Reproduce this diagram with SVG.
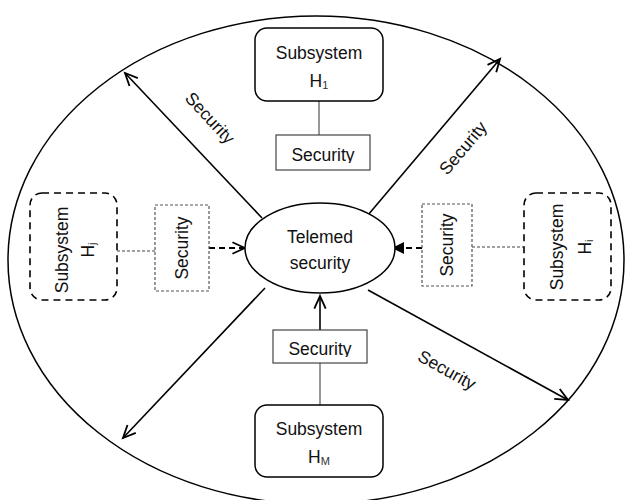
<svg xmlns="http://www.w3.org/2000/svg" width="625" height="500" viewBox="0 0 625 500">
  <style>
    text { font-family: "Liberation Sans", Arial, sans-serif; font-size: 17.5px; fill: #111; text-anchor: middle; }
    .sub { font-size: 11px; fill: #333; }
    .outline { fill: none; stroke: #000; stroke-width: 1.5; }
    .box { fill: #fff; stroke: #000; stroke-width: 1.5; }
    .dashbox { fill: #fff; stroke: #000; stroke-width: 1.6; stroke-dasharray: 7 5; }
    .secbox { fill: #fff; stroke: #444; stroke-width: 1.2; }
    .secdash { fill: #fff; stroke: #555; stroke-width: 1.2; stroke-dasharray: 3 2; }
    .link { fill: none; stroke: #333; stroke-width: 1; }
    .dotlink { fill: none; stroke: #444; stroke-width: 1.2; stroke-dasharray: 3 2; }
    .arrow { fill: none; stroke: #000; stroke-width: 1.6; }
    .dasharrow { fill: none; stroke: #000; stroke-width: 1.8; stroke-dasharray: 6 4; }
  </style>
  <defs>
    <marker id="open" markerUnits="userSpaceOnUse" markerWidth="16" markerHeight="16" refX="12" refY="6" orient="auto" viewBox="0 0 14 12">
      <path d="M1,1 L12,6 L1,11" fill="none" stroke="#000" stroke-width="1.6"/>
    </marker>
    <marker id="solid" markerUnits="userSpaceOnUse" markerWidth="12" markerHeight="12" refX="10" refY="5" orient="auto" viewBox="0 0 10 10">
      <path d="M0,0 L10,5 L0,10 Z" fill="#000"/>
    </marker>
    <clipPath id="clipTop"><rect x="276" y="135" width="94" height="28"/></clipPath>
    <clipPath id="clipBottom"><rect x="273" y="330" width="94" height="27"/></clipPath>
  </defs>

  <!-- enclosing system boundary -->
  <ellipse class="outline" cx="316" cy="260" rx="308" ry="244"/>

  <!-- connectors -->
  <g id="connectors">
    <!-- diagonal security channels -->
    <line class="arrow" x1="262" y1="218" x2="125" y2="73" marker-end="url(#open)"/>
    <line class="arrow" x1="368" y1="215" x2="500" y2="59" marker-end="url(#open)"/>
    <line class="arrow" x1="265" y1="288" x2="123" y2="438" marker-end="url(#open)"/>
    <line class="arrow" x1="368" y1="290" x2="568" y2="400" marker-end="url(#open)"/>
    <!-- top -->
    <line class="link" x1="319" y1="101" x2="319" y2="135"/>
    <!-- bottom -->
    <line class="link" x1="320" y1="363" x2="320" y2="405"/>
    <line class="arrow" x1="320" y1="330" x2="320" y2="296" marker-end="url(#open)"/>
    <!-- left -->
    <line class="dotlink" x1="117" y1="251" x2="155" y2="251"/>
    <line class="dasharrow" x1="209" y1="248" x2="245" y2="248" marker-end="url(#open)"/>
    <!-- right -->
    <line class="dotlink" x1="472" y1="247" x2="524" y2="247"/>
    <line class="dasharrow" x1="422" y1="248" x2="392" y2="248" marker-end="url(#solid)"/>

    <text transform="translate(210,118) rotate(47)" y="6">Security</text>
    <text transform="translate(463,148) rotate(-50)" y="6">Security</text>
    <text transform="translate(447,370) rotate(29)" y="6">Security</text>
  </g>

  <!-- central node -->
  <g id="telemed">
    <ellipse class="box" cx="320" cy="248" rx="75" ry="45"/>
    <text x="320" y="243">Telemed</text>
    <text x="320" y="269">security</text>
  </g>

  <!-- subsystem H1 -->
  <g id="subsystem-h1">
    <rect class="box" x="255" y="28" width="128" height="73" rx="12"/>
    <text x="319" y="59">Subsystem</text>
    <text x="319" y="87">H<tspan class="sub" dy="2">1</tspan></text>
  </g>
  <g id="security-h1">
    <rect class="secbox" x="276" y="135" width="94" height="35"/>
    <text x="323" y="161" clip-path="url(#clipTop)">Security</text>
  </g>

  <!-- subsystem HM -->
  <g id="subsystem-hm">
    <rect class="box" x="255" y="405" width="128" height="72" rx="12"/>
    <text x="319" y="435">Subsystem</text>
    <text x="319" y="463">H<tspan class="sub" dy="2">M</tspan></text>
  </g>
  <g id="security-hm">
    <rect class="secbox" x="273" y="330" width="94" height="33"/>
    <text x="320" y="355" clip-path="url(#clipBottom)">Security</text>
  </g>

  <!-- subsystem Hj (left) -->
  <g id="subsystem-hj">
    <rect class="dashbox" x="30" y="193" width="87" height="107" rx="12"/>
    <text transform="translate(62,250) rotate(-90)" y="6">Subsystem</text>
    <text transform="translate(88,250) rotate(-90)" y="6">H<tspan class="sub" dy="2">j</tspan></text>
  </g>
  <g id="security-hj">
    <rect class="secdash" x="155" y="205" width="54" height="86"/>
    <text transform="translate(182,248) rotate(-90)" y="6">Security</text>
  </g>

  <!-- subsystem Hi (right) -->
  <g id="subsystem-hi">
    <rect class="dashbox" x="524" y="193" width="87" height="107" rx="12"/>
    <text transform="translate(557,247) rotate(-90)" y="6">Subsystem</text>
    <text transform="translate(585,247) rotate(-90)" y="6">H<tspan class="sub" dy="2">i</tspan></text>
  </g>
  <g id="security-hi">
    <rect class="secdash" x="422" y="204" width="50" height="82"/>
    <text transform="translate(447,245) rotate(-90)" y="6">Security</text>
  </g>
</svg>
